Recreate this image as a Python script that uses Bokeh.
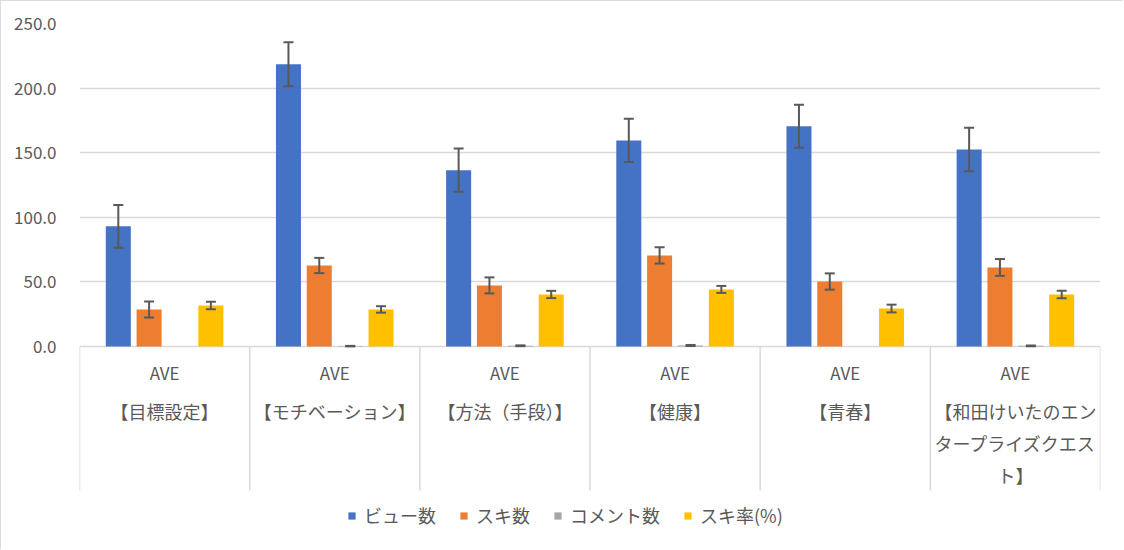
from bokeh.plotting import figure
from bokeh.models import (ColumnDataSource, Range1d, FixedTicker, NumeralTickFormatter,
                          Whisker, Legend, LegendItem, TeeHead)
from bokeh.transform import dodge
from bokeh.core.properties import value
from bokeh.embed import file_html
from bokeh.resources import INLINE

# ---- data ----
categories = ["【目標設定】", "【モチベーション】", "【方法（手段）】", "【健康】", "【青春】",
              "【和田けいたのエンタープライズクエスト】"]
category_labels = ["【目標設定】", "【モチベーション】", "【方法（手段）】", "【健康】", "【青春】",
                   "【和田けいたのエン\nタープライズクエス\nト】"]
level_label = "AVE"
series_names = ["ビュー数", "スキ数", "コメント数", "スキ率(%)"]
views = [93.0, 218.5, 136.5, 159.5, 170.5, 152.5]
views_err = [16.5, 17.0, 16.7, 16.7, 16.7, 16.8]
likes = [28.6, 62.7, 47.3, 70.5, 50.3, 61.2]
likes_err = [6.2, 5.9, 6.2, 6.3, 6.3, 6.5]
comments = [0.0, 0.3, 0.6, 0.8, 0.0, 0.5]
comments_err = [0.0, 0.2, 0.3, 0.4, 0.0, 0.3]
like_rate = [31.8, 28.7, 40.3, 44.2, 29.4, 40.2]
like_rate_err = [2.9, 2.5, 2.8, 2.7, 3.0, 2.9]
y_ticks = [0, 50, 100, 150, 200, 250]

colors = ["#4472C4", "#ED7D31", "#A5A5A5", "#FFC000"]
offsets = [-0.272, -0.091, 0.091, 0.272]
bar_w = 0.147
TXT = "#595959"
LINE = "#d9d9d9"
FONT = "Noto Sans CJK JP"
FS = "17px"

nan = float("nan")


def bounds(vals, errs):
    lo = [v - e if e > 0 else nan for v, e in zip(vals, errs)]
    hi = [v + e if e > 0 else nan for v, e in zip(vals, errs)]
    return lo, hi


v_lo, v_hi = bounds(views, views_err)
l_lo, l_hi = bounds(likes, likes_err)
c_lo, c_hi = bounds(comments, comments_err)
r_lo, r_hi = bounds(like_rate, like_rate_err)

src = ColumnDataSource(dict(
    cat=categories,
    v=views, v_lo=v_lo, v_hi=v_hi,
    l=likes, l_lo=l_lo, l_hi=l_hi,
    c=comments, c_lo=c_lo, c_hi=c_hi,
    r=like_rate, r_lo=r_lo, r_hi=r_hi,
))

y_bottom = -157.1      # bottom of the frame (data units)
table_bottom = -111.46 # bottom of the category table lines
p = figure(x_range=categories, y_range=Range1d(y_bottom, 250),
           width=1123, height=549, output_backend="svg", toolbar_location=None,
           x_axis_location=None,
           min_border_left=79, min_border_right=23, min_border_top=23, min_border_bottom=0)
p.x_range.range_padding = 0
p.outline_line_color = None
p.xgrid.visible = False
p.ygrid.ticker = FixedTicker(ticks=y_ticks)
p.ygrid.grid_line_color = LINE
p.ygrid.grid_line_width = 1.5
p.yaxis.ticker = FixedTicker(ticks=y_ticks)
p.yaxis.formatter = NumeralTickFormatter(format="0.0")
p.yaxis.axis_line_color = None
p.yaxis.major_tick_line_color = None
p.yaxis.minor_tick_line_color = None
p.yaxis.major_label_standoff = 17
p.yaxis.major_label_text_color = TXT
p.yaxis.major_label_text_font = FONT
p.yaxis.major_label_text_font_size = FS

keys = ["v", "l", "c", "r"]
renderers = []
for k, col, off in zip(keys, colors, offsets):
    r = p.vbar(x=dodge("cat", off, range=p.x_range), top=k, width=bar_w, source=src,
               fill_color=col, line_color=None)
    renderers.append(r)
    w = Whisker(source=src, base=dodge("cat", off, range=p.x_range), upper=k + "_hi", lower=k + "_lo",
                level="annotation",
                line_color="#595959", line_width=2,
                upper_head=TeeHead(size=10, line_color="#595959", line_width=2),
                lower_head=TeeHead(size=10, line_color="#595959", line_width=2))
    p.add_layout(w)

# category table lines
n = len(categories)
p.segment(x0=list(range(n + 1)), x1=list(range(n + 1)), y0=[0] * (n + 1), y1=[table_bottom] * (n + 1),
          line_color=LINE, line_width=1.5)

# category labels (two-level axis: "AVE" above the category name)
p.text(x=categories, y=[-19.9] * n, text=[level_label] * n, text_align="center", text_baseline="middle",
       text_font=value(FONT), text_font_size=FS, text_color=TXT)
name_y, line_step = -50.0, 24.7
lx, ly, lt = [], [], []
for c, lab in zip(categories, category_labels):
    for j, part in enumerate(lab.split("\n")):
        lx.append(c)
        ly.append(name_y - j * line_step)
        lt.append(part)
p.text(x=lx, y=ly, text=lt, text_align="center", text_baseline="middle",
       text_font=value(FONT), text_font_size="18px", text_color=TXT)

legend = Legend(items=[LegendItem(label=s, renderers=[r]) for s, r in zip(series_names, renderers)],
                orientation="horizontal", location=(268, 21), border_line_color=None,
                background_fill_alpha=0,
                label_text_font=FONT, label_text_font_size="18px", label_text_color=TXT,
                glyph_width=9, glyph_height=9, label_standoff=8, spacing=23, padding=5, margin=0)
p.add_layout(legend)

p.styles = {"outline": "1px solid #d0d0d0", "outline-offset": "-1px"}

open("out.html", "w").write(file_html(p, INLINE))
